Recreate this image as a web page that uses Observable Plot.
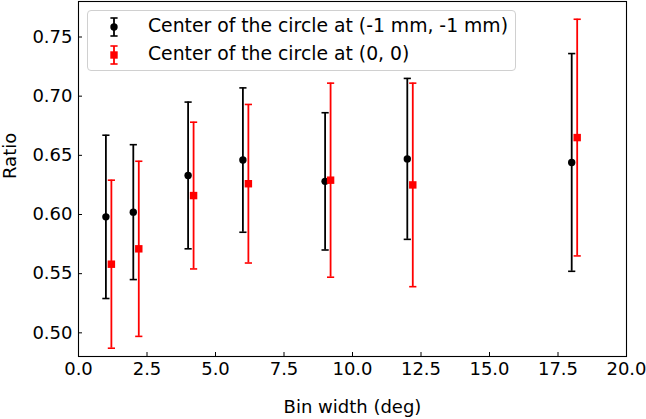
<!DOCTYPE html>
<html>
<head>
<meta charset="utf-8">
<script src="https://cdn.jsdelivr.net/npm/d3@7"></script>
<script src="https://cdn.jsdelivr.net/npm/@observablehq/plot@0.6"></script>
<style>
  html, body { margin: 0; padding: 0; background: white; }
  #wrap { position: relative; width: 646px; height: 419px; font-family: "DejaVu Sans", sans-serif; }
  #legend {
    position: absolute; left: 87px; top: 10px; width: 427px; height: 59px;
    border: 1px solid #d0d0d0; border-radius: 4px; background: rgba(255,255,255,0.8);
    font-size: 18.8px; color: black;
  }
  .row { position: absolute; left: 0; height: 24px; display: flex; align-items: center; }
  .row svg { position: absolute; left: 16px; top: 0; }
  .row span { position: absolute; left: 60px; white-space: nowrap; top: 0px; }
</style>
</head>
<body>
<div id="wrap"></div>
<script>
// Data
const xBlack = [1, 2, 4, 6, 9, 12, 18];
const yBlack = [0.598, 0.602, 0.633, 0.646, 0.628, 0.647, 0.644];
const errBlack = [0.069, 0.057, 0.062, 0.061, 0.058, 0.068, 0.092];

const xRed = [1.2, 2.2, 4.2, 6.2, 9.2, 12.2, 18.2];
const yRed = [0.558, 0.571, 0.616, 0.626, 0.629, 0.625, 0.665];
const errRed = [0.071, 0.074, 0.062, 0.067, 0.082, 0.086, 0.100];

const xTicks = [0, 2.5, 5, 7.5, 10, 12.5, 15, 17.5, 20];
const yTicks = [0.50, 0.55, 0.60, 0.65, 0.70, 0.75];

const seriesLabels = ["Center of the circle at (-1 mm, -1 mm)", "Center of the circle at (0, 0)"];
const seriesColors = ["black", "red"];

const black = xBlack.map((x, i) => ({x, y: yBlack[i], lo: yBlack[i] - errBlack[i], hi: yBlack[i] + errBlack[i]}));
const red = xRed.map((x, i) => ({x, y: yRed[i], lo: yRed[i] - errRed[i], hi: yRed[i] + errRed[i]}));

// horizontal cap symbol (errorbar cap)
const cap = {draw(ctx, size) { const w = Math.sqrt(size / Math.PI); ctx.moveTo(-w, 0); ctx.lineTo(w, 0); }};

function errMarks(data, color, symbol, r) {
  return [
    Plot.ruleX(data, {x: "x", y1: "lo", y2: "hi", stroke: color, strokeWidth: 1.8}),
    Plot.dot(data, {x: "x", y: "lo", symbol: cap, r: 3.6, stroke: color, strokeWidth: 1.6, fill: "none"}),
    Plot.dot(data, {x: "x", y: "hi", symbol: cap, r: 3.6, stroke: color, strokeWidth: 1.6, fill: "none"}),
    Plot.dot(data, {x: "x", y: "y", symbol, r, fill: color, stroke: "none"})
  ];
}

const chart = Plot.plot({
  width: 646, height: 419,
  marginLeft: 78, marginRight: 20, marginTop: 1, marginBottom: 63,
  x: {domain: [0, 20]},
  y: {domain: [0.48, 0.78]},
  style: {fontFamily: "DejaVu Sans", fontSize: "18px", color: "black", background: "white"},
  marks: [
    Plot.axisX(xTicks, {tickSize: -4, tickPadding: 10, tickFormat: d => d.toFixed(1), label: null, fontSize: 18}),
    Plot.axisY(yTicks, {tickSize: -4, tickPadding: 10, tickFormat: d => d.toFixed(2), label: null, fontSize: 18}),
    ...errMarks(black, seriesColors[0], "circle", 3.7),
    ...errMarks(red, seriesColors[1], "square", 4.2),
    Plot.frame({stroke: "black", strokeWidth: 1.1}),
    Plot.text(["Bin width (deg)"], {frameAnchor: "bottom", dy: 56, fontSize: 18}),
    Plot.text(["Ratio"], {frameAnchor: "left", dx: -68, rotate: -90, fontSize: 18})
  ]
});

const wrap = document.getElementById("wrap");
wrap.appendChild(chart);

// Legend overlay (matplotlib style, inside the axes)
const legend = document.createElement("div");
legend.id = "legend";
seriesLabels.forEach((label, i) => {
  const row = document.createElement("div");
  row.className = "row";
  row.style.top = (4 + i * 27.7) + "px";
  const color = seriesColors[i];
  const marker = i === 0
    ? `<circle cx="10" cy="12" r="3.7" fill="${color}"/>`
    : `<rect x="6.3" y="8.3" width="7.4" height="7.4" fill="${color}"/>`;
  row.innerHTML = `<svg width="20" height="24" viewBox="0 0 20 24">
      <line x1="10" y1="3" x2="10" y2="21" stroke="${color}" stroke-width="1.8"/>
      <line x1="6.4" y1="3" x2="13.6" y2="3" stroke="${color}" stroke-width="1.6"/>
      <line x1="6.4" y1="21" x2="13.6" y2="21" stroke="${color}" stroke-width="1.6"/>
      ${marker}</svg><span>${label}</span>`;
  legend.appendChild(row);
});
wrap.appendChild(legend);
</script>
</body>
</html>
